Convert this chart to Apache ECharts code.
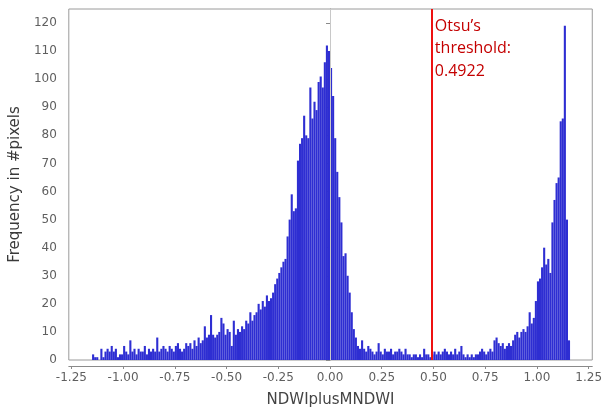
<!DOCTYPE html>
<html>
<head>
<meta charset="utf-8">
<script src="https://cdn.jsdelivr.net/npm/echarts@6/dist/echarts.min.js"></script>
<style>
  html, body { margin: 0; padding: 0; background: #fff; }
  #chart { width: 605px; height: 413px; }
</style>
</head>
<body>
<div id="chart"></div>
<script>
// Histogram bins (left edge of first bin and bin width)
const binStart = -1.15;
const binWidth = 0.01;
// Frequency in #pixels per bin
const counts = [
  2,1,1,0,4,1,3,4,3,5, 3,4,1,2,2,5,3,2,7,3, 4,2,4,3,3,5,2,4,3,4,
  3,8,3,4,5,4,3,5,4,3, 5,6,4,3,4,6,5,6,4,7, 5,8,6,7,12,8,9,16,9,8,
  9,10,15,13,9,11,10,5,14,9, 11,10,12,11,14,13,17,14,16,17,
  20,18,21,19,23,21,22,24,27,29, 31,33,35,36,44,50,59,53,54,71,
  77,79,87,80,79,97,86,92,89,99, 101,97,106,112,110,104,94,79,67,58,
  49,37,38,30,24,17,11,8,5,4, 7,4,3,5,4,3,2,3,6,3,
  2,4,3,3,4,2,3,3,4,3, 2,4,2,2,1,2,2,1,2,1,
  4,2,2,1,2,3,2,3,2,3, 4,3,2,3,2,4,2,3,5,2,
  1,2,1,2,1,2,2,3,4,3, 2,3,4,3,7,8,6,5,6,4,
  5,6,5,7,9,10,8,10,11,10, 12,17,13,15,21,28,29,33,40,34,
  36,31,49,57,63,65,85,86,119,50, 7
];
const xTicks = [-1.25, -1.00, -0.75, -0.50, -0.25, 0.00, 0.25, 0.50, 0.75, 1.00, 1.25];
const yTicks = [0, 10, 20, 30, 40, 50, 60, 70, 80, 90, 100, 110, 120];
const yMin = 0, yMax = 125;
const threshold = 0.4922;
const thresholdLines = ["Otsu\u2019s", "threshold:", "0.4922"];
const zeroLine = 0;

const centers = counts.map((c, i) => +(binStart + binWidth * (i + 0.5)).toFixed(4));
const barData = counts.map((c, i) => [centers[i], c]);

const chart = echarts.init(document.getElementById('chart'), null, { renderer: 'canvas' });
const labelFont = { fontFamily: 'DejaVu Sans', fontSize: 12, color: '#5f5f5f' };

chart.setOption({
  animation: false,
  backgroundColor: '#ffffff',
  grid: {
    left: 67, top: 9, width: 528, height: 354,
    show: true, borderColor: '#9a9a9a', borderWidth: 1, backgroundColor: '#ffffff'
  },
  xAxis: {
    type: 'value', min: -1.2625, max: 1.2675,
    offset: 6,
    axisLine: { show: true, onZero: false, lineStyle: { color: '#8a8a8a', width: 1 } },
    axisTick: { show: true, length: 3, customValues: xTicks, lineStyle: { color: '#8a8a8a' } },
    axisLabel: Object.assign({ customValues: xTicks, margin: 6, formatter: v => v.toFixed(2) }, labelFont),
    splitLine: { show: false },
    name: 'NDWIplusMNDWI', nameLocation: 'middle', nameGap: 27,
    nameTextStyle: { fontFamily: 'DejaVu Sans', fontSize: 15, color: '#444' }
  },
  yAxis: {
    type: 'value', min: yMin, max: yMax,
    offset: 5,
    axisLine: { show: true, lineStyle: { color: '#8a8a8a', width: 1 } },
    axisTick: { show: true, length: 4, customValues: yTicks, lineStyle: { color: '#8a8a8a' } },
    axisLabel: Object.assign({ customValues: yTicks, margin: 7 }, labelFont),
    splitLine: { show: false },
    name: 'Frequency in #pixels', nameLocation: 'middle', nameRotate: 90, nameGap: 36,
    nameTextStyle: { fontFamily: 'DejaVu Sans', fontSize: 15, color: '#3a3a3a' }
  },
  series: [
    {
      type: 'bar', data: barData, z: 3,
      barWidth: 2.1, barGap: '-100%',
      itemStyle: { color: '#2e2ed2' },
      markLine: {
        symbol: ['none', 'none'], silent: true, label: { show: false },
        data: [
          { xAxis: zeroLine, lineStyle: { color: '#c8c8c8', width: 1, type: 'solid' } },
          { xAxis: threshold, lineStyle: { color: '#ee1111', width: 2, type: 'solid' } }
        ]
      }
    }
  ]
});

const px = chart.convertToPixel({ gridIndex: 0 }, [threshold, yMax]);
chart.setOption({
  graphic: [{
    type: 'text', left: px[0] + 3, top: px[1] + 6, z: 10,
    style: {
      text: thresholdLines.join('\n'),
      fill: '#c40000', fontFamily: 'Open Sans', fontSize: 16, lineHeight: 22.5
    }
  }]
});
</script>
</body>
</html>
